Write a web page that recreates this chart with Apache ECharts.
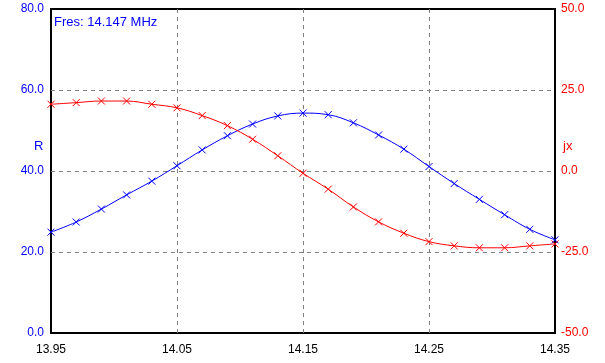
<!DOCTYPE html>
<html><head><meta charset="utf-8">
<script src="https://cdn.jsdelivr.net/npm/echarts@6/dist/echarts.min.js"></script>
<style>html,body{margin:0;padding:0;background:#fff}#c{width:605px;height:363px}</style>
</head><body><div id="c"></div>
<script>
const freqs = ['13.95','13.97','13.99','14.01','14.03','14.05','14.07','14.09','14.11','14.13','14.15','14.17','14.19','14.21','14.23','14.25','14.27','14.29','14.31','14.33','14.35'];
const rValues = [24.9,27.4,30.6,34.1,37.5,41.3,45.2,48.7,51.6,53.6,54.3,53.9,51.9,48.9,45.4,41.1,36.9,33.0,29.2,25.6,23.0];
const jxValues = [20.6,21.1,21.6,21.6,20.6,19.5,17.1,14.0,9.8,4.7,-0.7,-5.6,-11.1,-15.7,-19.2,-21.8,-23.1,-23.7,-23.7,-23.1,-22.5];
const leftTicks = {min:0,max:80,interval:20};
const rightTicks = {min:-50,max:50,interval:25};
const fresText = 'Fres: 14.147 MHz';

const font = 'Liberation Sans, Arial, sans-serif';
const cross = 'path://M0,0L10,10M10,0L0,10';
const gridColors = ['rgba(0,0,0,0)','#808080','#808080','#808080','rgba(0,0,0,0)'];
const chart = echarts.init(document.getElementById('c'));
chart.setOption({
  animation:false,
  backgroundColor:'#fff',
  grid:{left:51,right:50,top:9,bottom:30,show:true,borderColor:'#000',borderWidth:2,backgroundColor:'transparent'},
  xAxis:{type:'category',data:freqs,boundaryGap:false,
    axisLine:{show:false},axisTick:{show:false},
    axisLabel:{interval:4,color:'#000',fontFamily:font,fontSize:12,margin:11,showMaxLabel:true},
    splitLine:{show:true,interval:4,lineStyle:{color:gridColors,type:[4,4],width:1}}},
  yAxis:[
    {type:'value',min:leftTicks.min,max:leftTicks.max,interval:leftTicks.interval,position:'left',
     axisLine:{show:false},axisTick:{show:false},
     axisLabel:{color:'#0000ff',fontFamily:font,fontSize:12,margin:7,formatter:v=>v.toFixed(1)},
     splitLine:{show:true,lineStyle:{color:gridColors,type:[4,4],width:1}}},
    {type:'value',min:rightTicks.min,max:rightTicks.max,interval:rightTicks.interval,position:'right',
     axisLine:{show:false},axisTick:{show:false},
     axisLabel:{color:'#ff0000',fontFamily:font,fontSize:12,margin:6,formatter:v=>v.toFixed(1)},
     splitLine:{show:false}}
  ],
  graphic:[
    {type:'text',left:54,top:16,style:{text:fresText,fill:'#0000ff',font:'13px '+font}},
    {type:'text',left:34,top:140,style:{text:'R',fill:'#0000ff',font:'13px '+font}},
    {type:'text',left:563,top:140,style:{text:'jx',fill:'#ff0000',font:'13px '+font}}
  ],
  series:[
    {type:'line',data:rValues,yAxisIndex:0,smooth:0.4,symbol:cross,symbolSize:7,showAllSymbol:true,
     lineStyle:{color:'#0000ff',width:1},itemStyle:{color:'#0000ff',borderColor:'#0000ff',borderWidth:1}},
    {type:'line',data:jxValues,yAxisIndex:1,smooth:0.4,symbol:cross,symbolSize:7,showAllSymbol:true,
     lineStyle:{color:'#ff0000',width:1},itemStyle:{color:'#ff0000',borderColor:'#ff0000',borderWidth:1}}
  ]
});
</script></body></html>
